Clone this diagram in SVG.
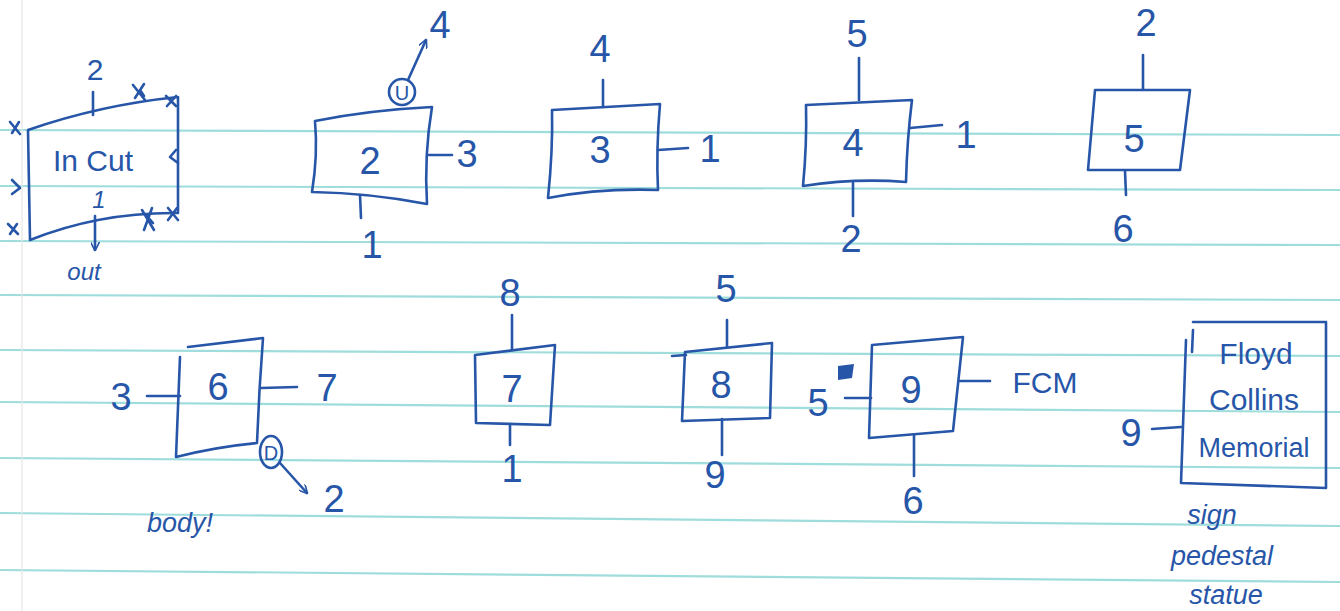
<svg xmlns="http://www.w3.org/2000/svg" width="1340" height="611" viewBox="0 0 1340 611">
<defs>
<style>
.ink{fill:none;stroke:#2756a8;stroke-width:2.6;stroke-linecap:round;stroke-linejoin:round}
.rule{stroke:#9fdcdc;stroke-width:2.2}
.t{font-family:"Liberation Sans","DejaVu Sans",sans-serif;fill:#2756a8;text-anchor:middle}
.big{font-size:38px}
.mid{font-size:30px}
.sm{font-size:24px;font-style:italic}
.hand{font-size:27px;font-style:italic}
</style>
<marker id="ah" viewBox="0 0 10 10" refX="9" refY="5" markerWidth="9" markerHeight="9" orient="auto-start-reverse" markerUnits="userSpaceOnUse">
<path d="M0,0 L10,5 L0,10" fill="none" stroke="#2756a8" stroke-width="1.8"/>
</marker>
</defs>
<rect width="1340" height="611" fill="#ffffff"/>
<g id="paper">
<line class="rule" x1="0" y1="130" x2="1340" y2="135"/>
<line class="rule" x1="0" y1="186" x2="1340" y2="190"/>
<line class="rule" x1="0" y1="241" x2="1340" y2="245"/>
<line class="rule" x1="0" y1="295" x2="1340" y2="300"/>
<line class="rule" x1="0" y1="350" x2="1340" y2="356"/>
<line class="rule" x1="0" y1="402" x2="1340" y2="412"/>
<line class="rule" x1="0" y1="458" x2="1340" y2="468"/>
<line class="rule" x1="0" y1="513" x2="1340" y2="526"/>
<line class="rule" x1="0" y1="570" x2="1340" y2="582"/>
<line x1="22" y1="0" x2="22" y2="611" stroke="#e4e4e4" stroke-width="1.2"/>
</g>
<g id="connectors" class="ink">
<path d="M93,92 L93,115"/>
<path d="M95,216 L95,250" marker-end="url(#ah)"/>
<path d="M360,195 L361,218"/>
<path d="M428,155 L452,155"/>
<path d="M408,80 L426,40" marker-end="url(#ah)"/>
<path d="M603,80 L603,107"/>
<path d="M658,150 L688,148"/>
<path d="M859,58 L859,100"/>
<path d="M910,128 L942,125"/>
<path d="M853,183 L853,216"/>
<path d="M1143,55 L1143,89"/>
<path d="M1125,171 L1126,195"/>
<path d="M147,396 L180,396"/>
<path d="M261,388 L297,387"/>
<path d="M280,463 L307,493" marker-end="url(#ah)"/>
<path d="M512,315 L512,350"/>
<path d="M510,424 L510,445"/>
<path d="M727,320 L727,347"/>
<path d="M672,356 L686,355"/>
<path d="M722,419 L722,455"/>
<path d="M845,398 L871,398"/>
<path d="M960,381 L990,381"/>
<path d="M914,435 L914,476"/>
<path d="M1152,429 L1181,427"/>
</g>
<g id="node-incut">
<path class="ink" d="M28,130 Q100,105 178,97 L178,213 Q100,212 30,240 Z"/>
<path class="ink" d="M10,122 L20,134 M12,133 L19,122 M12,180 L20,188 L12,194 M8,224 L18,234 M10,234 L17,224 M166,96 L176,106 M167,106 L176,96 M176,150 L170,157 L178,163 M133,85 L145,100 M135,98 L144,84 M140,90 L144,96 M168,208 L178,220 M168,220 L177,208 M142,210 L154,230 M144,230 L152,208 M146,215 L153,223"/>
<text class="t mid" x="93" y="171">In Cut</text>
<text class="t mid" x="95" y="80">2</text>
<text class="t sm" x="99" y="208">1</text>
<text class="t sm" x="84" y="280">out</text>
</g>
<g id="node-2">
<path class="ink" d="M315,121 Q370,110 432,107 Q424,155 427,204 Q370,193 312,192 Q318,155 315,121 Z"/>
<circle class="ink" cx="402" cy="92" r="13"/>
<text class="t" x="402" y="100" font-size="20">U</text>
<text class="t big" x="370" y="174">2</text>
<text class="t big" x="467" y="167">3</text>
<text class="t big" x="372" y="258">1</text>
<text class="t big" x="440" y="38">4</text>
</g>
<g id="node-3">
<path class="ink" d="M552,110 L660,104 Q656,150 658,190 Q600,188 548,198 Q553,150 552,110 Z"/>
<text class="t big" x="600" y="163">3</text>
<text class="t big" x="600" y="62">4</text>
<text class="t big" x="710" y="162">1</text>
</g>
<g id="node-4">
<path class="ink" d="M806,105 L912,100 Q907,140 906,182 Q855,178 803,186 Q807,145 806,105 Z"/>
<text class="t big" x="853" y="156">4</text>
<text class="t big" x="857" y="47">5</text>
<text class="t big" x="966" y="148">1</text>
<text class="t big" x="851" y="252">2</text>
</g>
<g id="node-5">
<path class="ink" d="M1095,90 L1190,90 L1180,170 L1088,170 Z"/>
<text class="t big" x="1134" y="152">5</text>
<text class="t big" x="1146" y="36">2</text>
<text class="t big" x="1123" y="242">6</text>
</g>
<g id="node-6">
<path class="ink" d="M188,347 L263,338 Q259,390 257,443 Q215,447 176,457 L180,357"/>
<ellipse class="ink" cx="271" cy="452" rx="11" ry="16"/>
<text class="t" x="271" y="460" font-size="20">D</text>
<text class="t big" x="218" y="400">6</text>
<text class="t big" x="121" y="410">3</text>
<text class="t big" x="327" y="401">7</text>
<text class="t big" x="334" y="512">2</text>
<text class="t hand" x="180" y="532">body!</text>
</g>
<g id="node-7">
<path class="ink" d="M475,355 L555,345 L550,425 L476,423 Z"/>
<text class="t big" x="512" y="402">7</text>
<text class="t big" x="510" y="306">8</text>
<text class="t big" x="512" y="482">1</text>
</g>
<g id="node-8">
<path class="ink" d="M685,352 L772,343 L770,418 L682,421 Z"/>
<text class="t big" x="721" y="398">8</text>
<text class="t big" x="726" y="302">5</text>
<text class="t big" x="715" y="488">9</text>
</g>
<g id="node-9">
<path class="ink" d="M872,345 L963,337 L953,431 L869,438 Z"/>
<path d="M838,366 L854,364 L852,378 L838,380 Z" fill="#2756a8"/>
<text class="t big" x="911" y="403">9</text>
<text class="t big" x="818" y="416">5</text>
<text class="t mid" x="1045" y="393">FCM</text>
<text class="t big" x="913" y="514">6</text>
</g>
<g id="node-fcm">
<path class="ink" d="M1193,322 L1326,322 L1326,488 L1181,483 L1186,340 M1193,330 L1192,352"/>
<text class="t mid" x="1256" y="364">Floyd</text>
<text class="t mid" x="1254" y="410">Collins</text>
<text class="t" x="1254" y="457" font-size="27">Memorial</text>
<text class="t big" x="1131" y="446">9</text>
<text class="t hand" x="1212" y="524">sign</text>
<text class="t hand" x="1222" y="565">pedestal</text>
<text class="t hand" x="1226" y="604">statue</text>
</g>
</svg>
